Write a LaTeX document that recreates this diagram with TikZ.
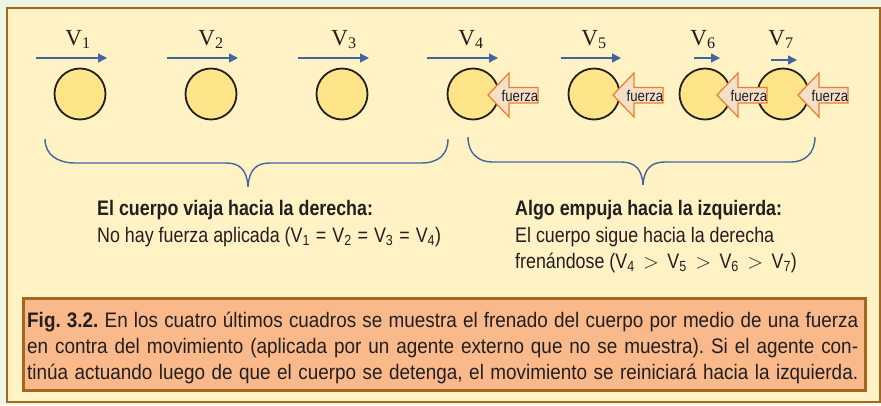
\documentclass[tikz,border=0pt]{standalone}
\usepackage{fontspec}
\setmainfont{Liberation Sans}
\newfontfamily\cond{Liberation Sans}[FakeStretch=0.85]
\newfontfamily\capfont{Liberation Sans}[FakeStretch=0.9]
\newfontfamily\vser{Liberation Serif}
\usetikzlibrary{arrows.meta}
\definecolor{bggreen}{HTML}{EEF5E3}
\definecolor{cream}{HTML}{FFF2C5}
\definecolor{framec}{HTML}{A5661F}
\definecolor{ballfill}{HTML}{FEE58A}
\definecolor{ink}{HTML}{231F20}
\definecolor{vblue}{HTML}{4464A0}
\definecolor{fzfill}{HTML}{F4E0C8}
\definecolor{fzline}{HTML}{F07C2C}
\definecolor{capfill}{HTML}{F9B98B}
\frenchspacing
\begin{document}
\begin{tikzpicture}[x=1pt,y=-1pt,
  ball/.style={circle, draw=ink, line width=1.8pt, fill=ballfill, minimum size=51pt, inner sep=0pt},
  vel/.style={vblue, line width=1.4pt, -{Triangle[length=9pt,width=9pt]}},
  vlab/.style={anchor=base, inner sep=0pt, text=ink, font=\vser\fontsize{23}{23}\selectfont},
  bracec/.style={vblue, line width=1.4pt},
  fz/.style={draw=fzline, fill=fzfill, line width=1.2pt, line join=miter},
  fztext/.style={text=ink, font=\cond\fontsize{15.5}{15.5}\selectfont, inner sep=0pt},
  txt/.style={anchor=base west, inner sep=0pt, text=ink, font=\cond\fontsize{21}{21}\selectfont},
  captxt/.style={anchor=base west, inner sep=0pt, text=ink, font=\capfont\fontsize{21}{21}\selectfont}
]
\fill[bggreen] (0,0) rectangle (881,405);
\useasboundingbox (0,0) rectangle (881,405);
\draw[framec, fill=cream, line width=2.5pt] (7,8) rectangle (880,402);

% balls
\foreach \c/\n in {80/1,211/2,342/3,473/4,594/5,705/6,783/7}{
  \node[ball] (b\n) at (\c,94) {};
}
% velocity labels
\foreach \c/\n in {78/1,211/2,344/3,471/4,594/5,703/6,781/7}{
  \node[vlab] (lab\n) at (\c,45) {V\textsubscript{\n}};
}
% velocity arrows
\foreach \s/\e/\n/\y in {36/107/1/58,167/238/2/58,298/369/3/58,427/498/4/58,561/621/5/58,694/720/6/58,771/797/7/60}{
  \coordinate (vs\n) at (\s,\y);
  \coordinate (ve\n) at (\e,\y);
  \draw[vel] (vs\n) -- (ve\n);
}
% force arrows
\foreach \t/\n in {488/4,613/5,717/6,798/7}{
  \draw[fz] (\t,95) -- (\t+21,73) -- (\t+21,87.5) -- (\t+50,87.5) -- (\t+50,103) -- (\t+21,103) -- (\t+21,117) -- cycle;
  \node[fztext] (fz\n) at (\t+32,95.5) {fuerza};
}
% braces
\draw[bracec] (45,139) .. controls (45,155) and (58,163) .. (75,163) -- (226,163)
  .. controls (240,163) and (247,170) .. (248,187)
  .. controls (249,170) and (256,163) .. (270,163) -- (421,163)
  .. controls (438,163) and (448,155) .. (448,139);
\draw[bracec] (468,137) .. controls (468,153) and (478,162) .. (492,162) -- (621,162)
  .. controls (635,162) and (642,169) .. (643,185)
  .. controls (644,169) and (651,162) .. (665,162) -- (791,162)
  .. controls (805,162) and (815,153) .. (815,137);
% texts
\node[txt] (t1) at (97,215) {\bfseries El cuerpo viaja hacia la derecha:};
\node[txt] (t2) at (97,242) {No hay fuerza aplicada (V\textsubscript{1}\kern1pt{} = \kern1pt V\textsubscript{2}\kern1pt{} = \kern1pt V\textsubscript{3}\kern1pt{} = \kern1pt V\textsubscript{4})};
\node[txt] (t3) at (515,215) {\bfseries Algo empuja hacia la izquierda:};
\node[txt] (t4) at (515,242) {El cuerpo sigue hacia la derecha};
\node[txt] (t5) at (515,268) {frenándose (V\textsubscript{4} \,$>$\, V\textsubscript{5} \,$>$\, V\textsubscript{6} \,$>$\, V\textsubscript{7})};
% caption
\node[draw=framec, fill=capfill, line width=2.5pt, minimum width=842pt, minimum height=92pt, inner sep=0pt, anchor=north west] (capbox) at (22,297) {};
\node[captxt] (c1) at (27,327) {\makebox[831pt][s]{\bfseries Fig. 3.2.\mdseries\ En los cuatro últimos cuadros se muestra el frenado del cuerpo por medio de una fuerza}};
\node[captxt] (c2) at (27,353) {\makebox[831pt][s]{en contra del movimiento (aplicada por un agente externo que no se muestra). Si el agente con-}};
\node[captxt] (c3) at (27,379) {\makebox[831pt][s]{tinúa actuando luego de que el cuerpo se detenga, el movimiento se reiniciará hacia la izquierda.}};
\end{tikzpicture}
\end{document}
